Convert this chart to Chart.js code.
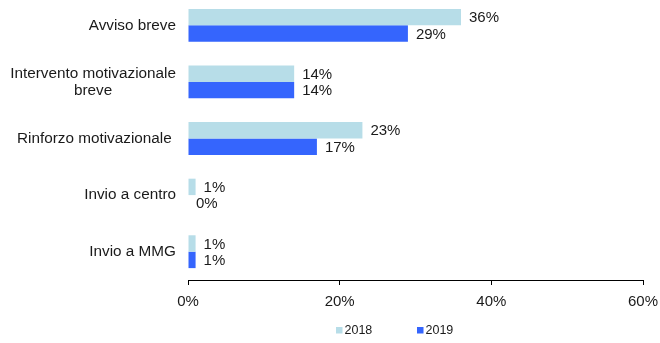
<!DOCTYPE html>
<html>
<head>
<meta charset="utf-8">
<script src="https://cdn.jsdelivr.net/npm/chart.js@4.4.0/dist/chart.umd.min.js"></script>
<style>
  html, body { margin: 0; padding: 0; background: #fff; overflow: hidden; }
  #wrap { position: absolute; left: 0; top: -3px; width: 660px; height: 346px; }
</style>
</head>
<body>
<div id="wrap"><canvas id="interventiChart"></canvas></div>
<script>
const categories = [
  ['Avviso breve'],
  ['Intervento motivazionale', 'breve'],
  ['Rinforzo motivazionale '],
  ['Invio a centro'],
  ['Invio a MMG']
];
const values2018 = [36, 14, 23, 1, 1];
const values2019 = [29, 14, 17, 0, 1];
const xTicks = [0, 20, 40, 60];

const FONT = '"Liberation Sans", Arial, sans-serif';
const TEXT = '#1a1a1a';

// category names on the left, right-aligned; multi-line names are centred on their widest line
const categoryLabels = {
  id: 'categoryLabels',
  afterDraw(chart) {
    const ctx = chart.ctx;
    const y = chart.scales.y;
    const right = chart.chartArea.left - 12;
    ctx.save();
    ctx.font = '15.3px ' + FONT;
    ctx.fillStyle = TEXT;
    ctx.textBaseline = 'middle';
    ctx.textAlign = 'left';
    categories.forEach((lines, i) => {
      const w = Math.max(...lines.map(l => ctx.measureText(l).width));
      const cx = right - w / 2;
      const lh = 17;
      const top = y.getPixelForValue(i) - (lines.length - 1) * lh / 2;
      lines.forEach((l, j) => {
        const lw = ctx.measureText(l).width;
        ctx.fillText(l, cx - lw / 2, top + j * lh);
      });
    });
    ctx.restore();
  }
};

// percentage next to the end of each bar
const valueLabels = {
  id: 'valueLabels',
  afterDatasetsDraw(chart) {
    const ctx = chart.ctx;
    ctx.save();
    ctx.font = '15px ' + FONT;
    ctx.fillStyle = TEXT;
    ctx.textBaseline = 'middle';
    ctx.textAlign = 'left';
    chart.data.datasets.forEach((ds, di) => {
      chart.getDatasetMeta(di).data.forEach((bar, i) => {
        ctx.fillText(ds.data[i] + '%', bar.x + 8, bar.y + 1);
      });
    });
    ctx.restore();
  }
};

// small square legend centred under the axis
const bottomLegend = {
  id: 'bottomLegend',
  afterDraw(chart) {
    const ctx = chart.ctx;
    const y = chart.height - 13;
    const starts = [336, 417];
    ctx.save();
    ctx.font = '12.5px ' + FONT;
    ctx.textBaseline = 'middle';
    ctx.textAlign = 'left';
    chart.data.datasets.forEach((ds, i) => {
      const x = starts[i];
      ctx.fillStyle = ds.backgroundColor;
      ctx.fillRect(x, y - 3, 6.5, 6.5);
      ctx.fillStyle = TEXT;
      ctx.fillText(ds.label, x + 8.5, y + 0.5);
    });
    ctx.restore();
  }
};

new Chart(document.getElementById('interventiChart'), {
  type: 'bar',
  data: {
    labels: categories.map(c => c.join(' ')),
    datasets: [
      {
        label: '2018',
        data: values2018,
        backgroundColor: '#b7dde8',
        categoryPercentage: 0.58,
        barPercentage: 1.0
      },
      {
        label: '2019',
        data: values2019,
        backgroundColor: '#3565fd',
        categoryPercentage: 0.58,
        barPercentage: 1.0
      }
    ]
  },
  options: {
    indexAxis: 'y',
    responsive: true,
    maintainAspectRatio: false,
    animation: false,
    layout: { padding: { left: 188, right: 17, top: 0, bottom: 24 } },
    scales: {
      x: {
        min: 0,
        max: 60,
        afterBuildTicks: scale => { scale.ticks = xTicks.map(v => ({ value: v })); },
        // the end labels may hang past the axis, so don't shrink the plot for them
        afterFit: scale => { scale.paddingLeft = 0; scale.paddingRight = 0; },
        border: { display: true, color: '#000', width: 1 },
        grid: { display: true, drawOnChartArea: false, drawTicks: true, tickLength: 5, color: '#000' },
        ticks: {
          padding: 8,
          color: TEXT,
          font: { family: FONT, size: 15 },
          maxRotation: 0,
          callback: v => v + '%'
        }
      },
      y: { display: false }
    },
    plugins: {
      legend: { display: false },
      tooltip: { enabled: false }
    }
  },
  plugins: [categoryLabels, valueLabels, bottomLegend]
});
</script>
</body>
</html>
